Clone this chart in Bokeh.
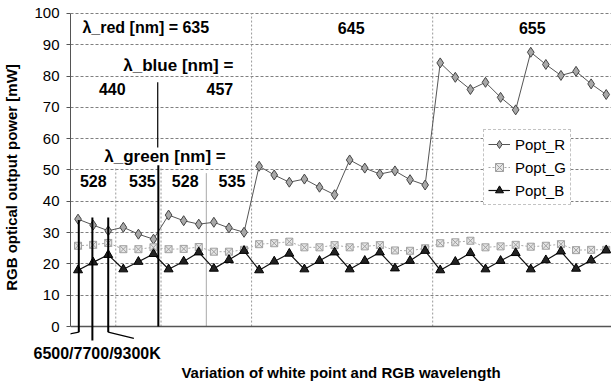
from bokeh.plotting import figure
from bokeh.models import (Arrow, Label, Legend, LegendItem, FixedTicker,
                          ColumnDataSource, Span, Title)
from bokeh.embed import file_html
from bokeh.resources import INLINE

# Measurement sequence: red wavelength x blue wavelength x green wavelength x white point
red_nm = [635, 645, 655]
blue_nm = [440, 457]
green_nm = [528, 535]
white_k = [6500, 7700, 9300]
categories = [f"{r}/{b}/{g}/{w}K" for r in red_nm for b in blue_nm
              for g in green_nm for w in white_k]

popt_r = [34.3, 32.4, 30.6, 31.7, 29.5, 27.9, 35.6, 33.8, 32.7, 33.3, 31.5, 30.1,
          51.2, 48.4, 46.1, 47.1, 44.5, 42.1, 53.2, 50.6, 48.7, 49.7, 46.9, 45.2,
          84.2, 79.6, 75.7, 78.0, 73.2, 69.2, 87.6, 83.7, 80.2, 81.5, 77.5, 74.1]
popt_g = [25.8, 26.1, 26.7, 24.7, 24.7, 25.3, 24.7, 24.8, 25.4, 23.9, 23.9, 24.5,
          26.3, 26.6, 27.1, 25.3, 25.3, 26.0, 25.3, 25.6, 26.0, 24.3, 24.2, 25.0,
          26.6, 26.9, 27.4, 25.3, 25.6, 26.1, 25.5, 25.8, 26.3, 24.4, 24.5, 24.5]
popt_b = [18.0, 20.5, 22.9, 18.3, 20.7, 23.2, 18.3, 20.8, 23.7, 18.5, 21.3, 24.2,
          18.0, 20.8, 23.3, 18.3, 21.0, 23.7, 18.3, 21.0, 23.7, 18.6, 21.0, 24.2,
          18.0, 20.7, 23.5, 18.3, 21.0, 23.5, 18.3, 21.2, 24.0, 18.5, 21.2, 24.4]

y_ticks = [0, 10, 20, 30, 40, 50, 60, 70, 80, 90, 100]

FONT = "Liberation Sans"

# one unit per measurement, points centred in their slot
xpos = [i + 0.5 for i in range(len(categories))]
src = ColumnDataSource(dict(x=xpos, cat=categories, r=popt_r, g=popt_g, b=popt_b))

# frame reaches a little below zero so the white-point leaders fit inside it
p = figure(width=611, height=384, x_range=(0, 35.85), y_range=(-5.1, 100.3),
           output_backend="svg", toolbar_location=None, x_axis_location=None,
           min_border_left=69, min_border_right=0, min_border_top=12,
           min_border_bottom=42)
p.outline_line_color = None
p.background_fill_color = "white"

# y axis
p.yaxis.ticker = FixedTicker(ticks=y_ticks)
p.yaxis.bounds = (0, 100)
p.yaxis.axis_label = "RGB optical output power [mW]"
p.yaxis.axis_label_text_font = FONT
p.yaxis.axis_label_text_font_style = "bold"
p.yaxis.axis_label_text_font_size = "15px"
p.yaxis.axis_label_text_color = "black"
p.yaxis.axis_label_standoff = 11
p.yaxis.major_label_text_font = FONT
p.yaxis.major_label_text_font_size = "15px"
p.yaxis.major_label_text_color = "black"
p.yaxis.major_label_standoff = 7
p.yaxis.major_tick_out = 4
p.yaxis.major_tick_in = 0
p.yaxis.minor_tick_line_color = None
p.yaxis.axis_line_color = "#555555"
p.yaxis.major_tick_line_color = "#555555"

p.xgrid.grid_line_color = None
p.ygrid.ticker = FixedTicker(ticks=y_ticks[1:])
p.ygrid.grid_line_color = "#808080"
p.ygrid.grid_line_dash = "3 2"
p.ygrid.grid_line_width = 1

# baseline at zero
p.add_layout(Span(location=0, dimension="width", line_color="#555555",
                  line_width=1.5))

# captions below the plot area
p.add_layout(Title(text="/".join(str(w) for w in white_k) + "K", align="left",
                   offset=-37, text_font=FONT, text_font_style="bold",
                   text_font_size="16px", text_color="black", standoff=0),
             "below")
p.add_layout(Title(text="Variation of white point and RGB wavelength",
                   align="center", offset=-3, text_font=FONT,
                   text_font_style="bold", text_font_size="15px",
                   text_color="black", standoff=0), "below")

# group separators (gray dotted)
def sep(x0, y0, x1, y1, color="#999999", width=1, dash="2 2"):
    p.add_layout(Arrow(end=None, x_start=x0, y_start=y0, x_end=x1, y_end=y1,
                       line_color=color, line_width=width, line_dash=dash,
                       level="underlay"))

sep(3, 0, 3, 51)
sep(6, 0, 6, 51)
sep(9, 0, 9, 49, color="#aaaaaa", dash="solid")
sep(12, 0, 12, 100)
sep(24, 0, 24, 100)

# series
r_line = p.line("x", "r", source=src, line_color="#555555", line_width=1)
r_mark = p.scatter("x", "r", source=src, marker="diamond", size=10,
                   fill_color="#a8a8a8", line_color="#444444", line_width=1)
g_line = p.line("x", "g", source=src, line_color="#aaaaaa", line_width=1,
                line_dash="2 2")
g_mark = p.scatter("x", "g", source=src, marker="square_x", size=7,
                   fill_color="#e6e6e6", line_color="#a0a0a0", line_width=1)
b_line = p.line("x", "b", source=src, line_color="#111111", line_width=1.2)
b_mark = p.scatter("x", "b", source=src, marker="triangle", size=9,
                   fill_color="#222222", line_color="#000000", line_width=1)

# black marker lines for blue split and white points
def bar(x0, y0, x1, y1, width=2):
    p.add_layout(Arrow(end=None, x_start=x0, y_start=y0, x_end=x1, y_end=y1,
                       line_color="black", line_width=width))

bar(5.78, 57.2, 5.78, 78.0, width=1.2)
bar(5.82, 0, 5.82, 51.5, width=2)

bar(0.55, 34.0, 0.55, -1.8)
bar(0.55, -1.8, -0.93, -3.2, width=1.2)
bar(1.45, 34.8, 1.45, -4.5)
bar(2.5, 34.8, 2.5, -1.8)
bar(2.5, -1.8, 4.2, -3.8, width=1.2)

# text labels
def lab(x, y, text, align="left", size="16px"):
    p.add_layout(Label(x=x, y=y, text=text, text_font=FONT,
                       text_font_style="bold", text_font_size=size,
                       text_color="black", text_align=align,
                       text_baseline="middle"))

lab(0.79, 95.5, f"\u03bb_red [nm] = {red_nm[0]}", size="16px")
lab(18.6, 95.5, str(red_nm[1]), align="center")
lab(30.6, 95.5, str(red_nm[2]), align="center")
lab(3.5, 83.4, "\u03bb_blue [nm] =", size="17px")
lab(2.77, 76.0, str(blue_nm[0]), align="center")
lab(9.9, 76.0, str(blue_nm[1]), align="center")
lab(2.24, 54.3, "\u03bb_green [nm] =", size="17px")
lab(1.51, 46.6, str(green_nm[0]), align="center")
lab(4.76, 46.6, str(green_nm[1]), align="center")
lab(7.6, 46.6, str(green_nm[0]), align="center")
lab(10.7, 46.6, str(green_nm[1]), align="center")

legend = Legend(items=[
    LegendItem(label="Popt_R", renderers=[r_line, r_mark]),
    LegendItem(label="Popt_G", renderers=[g_line, g_mark]),
    LegendItem(label="Popt_B", renderers=[b_line, b_mark]),
], location=(413, 137))
legend.label_text_font = FONT
legend.label_text_font_size = "15px"
legend.label_text_color = "black"
legend.glyph_width = 22
legend.glyph_height = 20
legend.label_height = 20
legend.label_standoff = 5
legend.spacing = 3
legend.padding = 4
legend.margin = 0
legend.border_line_color = "#888888"
legend.border_line_dash = "1 1"
legend.background_fill_alpha = 1
p.add_layout(legend)

open("out.html", "w").write(file_html(p, INLINE))
